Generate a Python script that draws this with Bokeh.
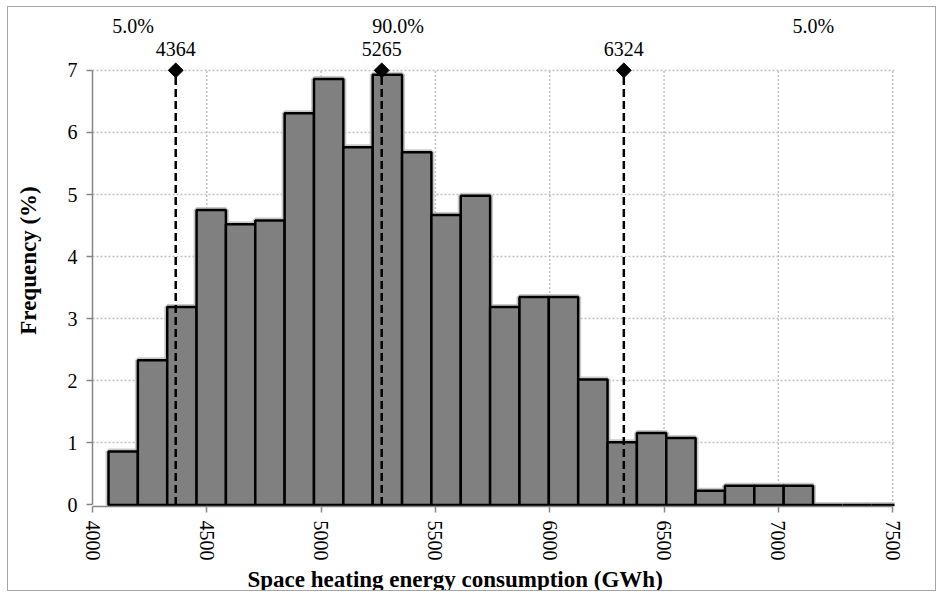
import math

from bokeh.core.properties import value
from bokeh.embed import file_html
from bokeh.models import ColumnDataSource, FixedTicker, Range1d, Title
from bokeh.plotting import figure
from bokeh.resources import INLINE

# Histogram of simulated space heating energy consumption (GWh)
bin_start = 4070.0
bin_width = 128.4
freq_pct = [0.86, 2.33, 3.19, 4.75, 4.52, 4.58, 6.31, 6.86, 5.76, 6.93, 5.68, 4.67,
            4.98, 3.19, 3.35, 3.35, 2.02, 1.01, 1.16, 1.08, 0.23, 0.31, 0.31, 0.31,
            0.0, 0.0, 0.0]

# 5th percentile, median, 95th percentile
markers_x = [4364, 5265, 6324]
share_text = ["5.0%", "90.0%", "5.0%"]
share_x = [4178, 5337, 7153]

x_ticks = [4000, 4500, 5000, 5500, 6000, 6500, 7000, 7500]
y_ticks = [0, 1, 2, 3, 4, 5, 6, 7]

FONT = "Liberation Serif"

lefts = [bin_start + i * bin_width for i in range(len(freq_pct))]
rights = [l + bin_width for l in lefts]
bars = ColumnDataSource(dict(left=lefts, right=rights, top=freq_pct,
                             bottom=[0.0] * len(freq_pct)))

p = figure(width=929, height=585, output_backend="svg", toolbar_location=None,
           x_range=Range1d(4000, 7508), y_range=Range1d(-0.025, 7.9),
           min_border_left=84, min_border_right=43, min_border_top=7,
           min_border_bottom=86, background_fill_color="white",
           border_fill_color="white", outline_line_color=None,
           styles={"margin-left": "7px", "margin-top": "6px",
                   "border": "1px solid #a6a6a6"})

# grid: horizontal via the y grid, vertical lines stop at the top tick
p.xgrid.grid_line_color = None
p.ygrid.ticker = FixedTicker(ticks=y_ticks[1:])
p.ygrid.grid_line_color = "#c0c0c0"
p.ygrid.grid_line_width = 1.5
p.ygrid.grid_line_dash = "2 2"
p.segment(x0=x_ticks[1:], x1=x_ticks[1:], y0=[0] * 7, y1=[7] * 7,
          line_color="#c0c0c0", line_width=1.5, line_dash="2 2")

# soft halo behind the bars, then the bars themselves
p.quad(left="left", right="right", top="top", bottom="bottom", source=bars,
       fill_color=None, line_color="#bdbdbd", line_width=6, line_alpha=0.8)
p.quad(left="left", right="right", top="top", bottom="bottom", source=bars,
       fill_color="#808080", line_color="black", line_width=2.5)

# percentile markers
p.segment(x0=markers_x, x1=markers_x, y0=[0] * 3, y1=[7] * 3,
          line_color="black", line_width=2.5, line_dash="8 4")
p.scatter(x=markers_x, y=[7] * 3, marker="square", angle=math.pi / 4, size=10.5,
          fill_color="black", line_color="black")
p.text(x=markers_x, y=[7.34] * 3, text=[f"{v:.0f}" for v in markers_x],
       text_font=value(FONT), text_font_size="20px", text_align="center",
       text_baseline="middle", text_color="black")
p.text(x=share_x, y=[7.72] * 3, text=share_text,
       text_font=value(FONT), text_font_size="20px", text_align="center",
       text_baseline="middle", text_color="black")

# axes
for ax in (p.xaxis[0], p.yaxis[0]):
    ax.axis_line_color = "#868686"
    ax.axis_line_width = 1.5
    ax.major_tick_line_color = "#868686"
    ax.major_tick_line_width = 1.5
    ax.major_tick_in = 0
    ax.major_tick_out = 6
    ax.minor_tick_line_color = None
    ax.major_label_text_font = FONT
    ax.major_label_text_font_size = "20px"
    ax.major_label_text_color = "black"

p.xaxis.ticker = FixedTicker(ticks=x_ticks)
p.xaxis.bounds = (4000, 7500)
p.xaxis.major_label_orientation = "vertical"
p.xaxis.major_label_standoff = 8

p.yaxis.ticker = FixedTicker(ticks=y_ticks)
p.yaxis.bounds = (0, 7)
p.yaxis.major_label_standoff = 9
p.yaxis.axis_label = "Frequency (%)"
p.yaxis.axis_label_standoff = 24
p.yaxis.axis_label_text_font = FONT
p.yaxis.axis_label_text_font_size = "23px"
p.yaxis.axis_label_text_font_style = "bold"
p.yaxis.axis_label_text_color = "black"

# x axis title, set a little left of the plot centre
p.add_layout(Title(text="Space heating energy consumption (GWh)", align="left",
                   offset=155, text_font=FONT, text_font_size="23px",
                   text_font_style="bold", text_color="black", standoff=2),
             "below")

open("out.html", "w").write(file_html(p, INLINE))
